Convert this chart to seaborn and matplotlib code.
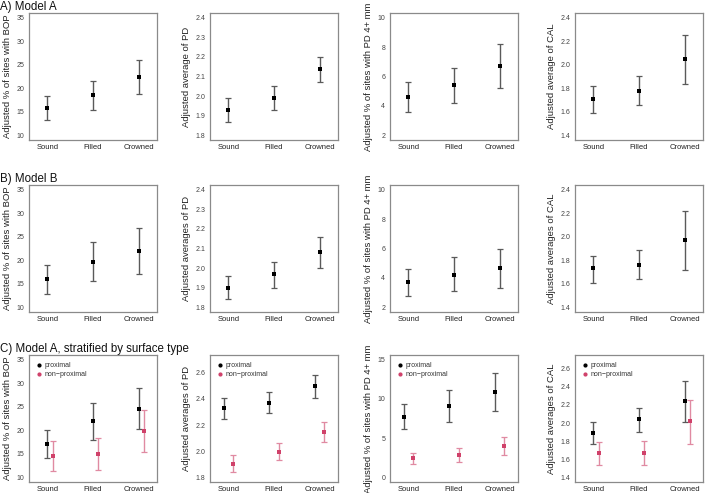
import numpy as np
import pandas as pd
import seaborn as sns
import matplotlib
matplotlib.use("Agg")
import matplotlib.pyplot as plt

# categories
groups = ["Sound", "Filled", "Crowned"]

# A) Model A : estimate, lower, upper
a_bop = [15.8, 18.5, 22.4]
a_bop_lo = [13.3, 15.4, 18.7]
a_bop_hi = [18.4, 21.6, 26.0]
a_pd = [1.93, 1.99, 2.14]
a_pd_lo = [1.87, 1.93, 2.07]
a_pd_hi = [1.99, 2.05, 2.20]
a_pd4 = [4.6, 5.4, 6.7]
a_pd4_lo = [3.6, 4.2, 5.2]
a_pd4_hi = [5.6, 6.6, 8.2]
a_cal = [1.71, 1.78, 2.05]
a_cal_lo = [1.59, 1.66, 1.84]
a_cal_hi = [1.82, 1.90, 2.25]

# B) Model B
b_bop = [16.0, 19.7, 22.0]
b_bop_lo = [12.9, 15.5, 17.1]
b_bop_hi = [19.0, 23.9, 26.8]
b_pd = [1.90, 1.97, 2.08]
b_pd_lo = [1.84, 1.90, 2.00]
b_pd_hi = [1.96, 2.03, 2.16]
b_pd4 = [3.7, 4.2, 4.7]
b_pd4_lo = [2.8, 3.1, 3.3]
b_pd4_hi = [4.6, 5.4, 6.0]
b_cal = [1.73, 1.76, 1.97]
b_cal_lo = [1.61, 1.64, 1.72]
b_cal_hi = [1.84, 1.89, 2.22]

# C) stratified: proximal / non-proximal
c_bop_p = [17.1, 22.0, 24.6]
c_bop_p_lo = [14.1, 18.0, 20.3]
c_bop_p_hi = [20.1, 25.9, 29.0]
c_bop_n = [14.5, 14.9, 19.9]
c_bop_n_lo = [11.3, 11.5, 15.4]
c_bop_n_hi = [17.7, 18.3, 24.4]
c_pd_p = [2.33, 2.37, 2.50]
c_pd_p_lo = [2.25, 2.29, 2.41]
c_pd_p_hi = [2.41, 2.45, 2.58]
c_pd_n = [1.90, 1.99, 2.15]
c_pd_n_lo = [1.84, 1.93, 2.07]
c_pd_n_hi = [1.97, 2.06, 2.22]
c_pd4_p = [7.7, 9.1, 10.9]
c_pd4_p_lo = [6.1, 7.1, 8.5]
c_pd4_p_hi = [9.4, 11.1, 13.3]
c_pd4_n = [2.4, 2.8, 4.0]
c_pd4_n_lo = [1.7, 2.0, 2.8]
c_pd4_n_hi = [3.1, 3.7, 5.1]
c_cal_p = [1.89, 2.04, 2.24]
c_cal_p_lo = [1.77, 1.90, 2.01]
c_cal_p_hi = [2.01, 2.17, 2.47]
c_cal_n = [1.67, 1.67, 2.02]
c_cal_n_lo = [1.54, 1.54, 1.77]
c_cal_n_hi = [1.79, 1.80, 2.26]

row_titles = ["A) Model A", "B) Model B", "C) Model A, stratified by surface type"]
ylabels = [
    ["Adjusted % of sites with BOP", "Adjusted average of PD",
     "Adjusted % of sites with PD 4+ mm", "Adjusted average of CAL"],
    ["Adjusted % of sites with BOP", "Adjusted averages of PD",
     "Adjusted % of sites with PD 4+ mm", "Adjusted averages of CAL"],
    ["Adjusted % of sites with BOP", "Adjusted averages of PD",
     "Adjusted % of sites with PD 4+ mm", "Adjusted averages of CAL"],
]
yranges = [
    [(10, 35), (1.8, 2.4), (2, 10), (1.4, 2.4)],
    [(10, 35), (1.8, 2.4), (2, 10), (1.4, 2.4)],
    [(10, 35), (1.8, 2.7), (0, 15), (1.4, 2.7)],
]
yticks = [
    [np.arange(10, 36, 5), np.arange(1.8, 2.41, 0.1), np.arange(2, 11, 2), np.arange(1.4, 2.41, 0.2)],
    [np.arange(10, 36, 5), np.arange(1.8, 2.41, 0.1), np.arange(2, 11, 2), np.arange(1.4, 2.41, 0.2)],
    [np.arange(10, 36, 5), np.arange(1.8, 2.61, 0.2), np.arange(0, 16, 5), np.arange(1.4, 2.61, 0.2)],
]

single = [
    [(a_bop, a_bop_lo, a_bop_hi), (a_pd, a_pd_lo, a_pd_hi),
     (a_pd4, a_pd4_lo, a_pd4_hi), (a_cal, a_cal_lo, a_cal_hi)],
    [(b_bop, b_bop_lo, b_bop_hi), (b_pd, b_pd_lo, b_pd_hi),
     (b_pd4, b_pd4_lo, b_pd4_hi), (b_cal, b_cal_lo, b_cal_hi)],
]
strat = [
    ((c_bop_p, c_bop_p_lo, c_bop_p_hi), (c_bop_n, c_bop_n_lo, c_bop_n_hi)),
    ((c_pd_p, c_pd_p_lo, c_pd_p_hi), (c_pd_n, c_pd_n_lo, c_pd_n_hi)),
    ((c_pd4_p, c_pd4_p_lo, c_pd4_p_hi), (c_pd4_n, c_pd4_n_lo, c_pd4_n_hi)),
    ((c_cal_p, c_cal_p_lo, c_cal_p_hi), (c_cal_n, c_cal_n_lo, c_cal_n_hi)),
]
c_offsets = [(0.0, 0.12), (-0.1, 0.1), (-0.1, 0.1), (0.0, 0.12)]

sns.set_style("white")
plt.rcParams["font.family"] = ["Liberation Sans", "DejaVu Sans"]

W, H = 709, 493
fig = plt.figure(figsize=(W / 100, H / 100), dpi=100)

col_left = [29, 210, 390, 575]
row_top = [13, 185, 355]
ax_w, ax_h = 128, 127

frame_col = "#8a8a8a"
red = "#d0416a"
red_bar = "#e08aa2"


def draw(ax, vals, lo, hi, offset, pcolor, bcolor, label=None):
    df = pd.DataFrame({"group": groups, "est": vals, "lo": lo, "hi": hi})
    df["x"] = np.arange(1, len(groups) + 1) + offset
    ax.errorbar(df["x"], df["est"],
                yerr=[df["est"] - df["lo"], df["hi"] - df["est"]],
                fmt="none", ecolor=bcolor, elinewidth=1.0, capsize=2.5, capthick=0.9)
    sns.scatterplot(data=df, x="x", y="est", ax=ax, color=pcolor, s=5,
                    marker="s", linewidth=0, label=label, legend=False, zorder=3)


for r in range(3):
    for c in range(4):
        ax = fig.add_axes([col_left[c] / W, 1 - (row_top[r] + ax_h) / H, ax_w / W, ax_h / H])
        if r < 2:
            v, lo, hi = single[r][c]
            draw(ax, v, lo, hi, 0.0, "black", "#5a5a5a")
        else:
            (pv, plo, phi), (nv, nlo, nhi) = strat[c]
            op, on = c_offsets[c]
            draw(ax, pv, plo, phi, op, "black", "#5a5a5a")
            draw(ax, nv, nlo, nhi, on, red, red_bar)
            ax.scatter([], [], color="black", s=4, label="proximal")
            ax.scatter([], [], color=red, s=4, label="non\u2212proximal")
            ax.legend(loc="upper left", frameon=False, fontsize=5, handletextpad=0.2,
                      borderaxespad=0.6, labelspacing=0.3, handlelength=1.0,
                      labelcolor="#333333")
        y0, y1 = yranges[r][c]
        pad = (y1 - y0) * 0.04
        ax.set_ylim(y0 - pad, y1 + pad)
        ax.set_yticks(yticks[r][c])
        ax.set_xlim(0.6, 3.4)
        ax.set_xticks([1, 2, 3])
        ax.set_xticklabels(groups)
        ax.set_xlabel("")
        ax.set_ylabel(ylabels[r][c], fontsize=6.8, color="#222222", labelpad=3)
        ax.tick_params(axis="x", length=0, labelsize=5.5, pad=3, labelcolor="#222222")
        ax.tick_params(axis="y", length=2, width=0.6, color=frame_col, labelsize=5,
                       pad=1.5, labelcolor="#444444")
        for s in ax.spines.values():
            s.set_color(frame_col)
            s.set_linewidth(0.9)

for r in range(3):
    fig.text(0.5 / W, 1 - (row_top[r] - 6) / H, row_titles[r], fontsize=8.3,
             va="center", ha="left", color="#111111")

fig.savefig("out.png", dpi=100)
